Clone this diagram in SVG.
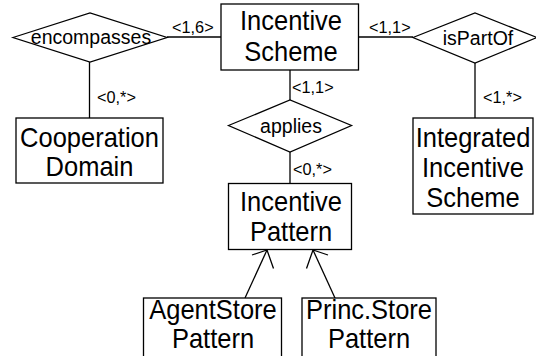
<svg xmlns="http://www.w3.org/2000/svg" width="536" height="356" viewBox="0 0 536 356">
<style>
  .shape { fill: #ffffff; stroke: #000000; stroke-width: 1.3; }
  .line { fill: none; stroke: #000000; stroke-width: 1.3; }
  .ent { font-family: "Liberation Sans", Arial, sans-serif; font-size: 25.5px; fill: #000; text-anchor: middle; }
  .rel { font-family: "Liberation Sans", Arial, sans-serif; font-size: 19.5px; fill: #000; text-anchor: middle; }
  .lbl { font-family: "Liberation Sans", Arial, sans-serif; font-size: 16.3px; fill: #000; }
</style>
<rect width="536" height="356" fill="#ffffff"/>
<g id="connectors">
  <line class="line" x1="167" y1="37" x2="221" y2="37"/>
  <line class="line" x1="89.5" y1="62" x2="89.5" y2="118"/>
  <line class="line" x1="358" y1="37" x2="413" y2="37"/>
  <line class="line" x1="475" y1="63" x2="475" y2="118"/>
  <line class="line" x1="290" y1="70" x2="290" y2="100"/>
  <line class="line" x1="290" y1="152" x2="290" y2="183"/>
  <polyline class="line" points="245,298 267,250"/>
  <polyline class="line" points="252,255 267,250 273.5,268.5"/>
  <polyline class="line" points="335,298 313,250"/>
  <polyline class="line" points="328,255 313,250 306.5,268.5"/>
  <text class="lbl" x="172" y="33">&lt;1,6&gt;</text>
  <text class="lbl" x="97" y="103">&lt;0,*&gt;</text>
  <text class="lbl" x="369" y="33">&lt;1,1&gt;</text>
  <text class="lbl" x="483" y="103">&lt;1,*&gt;</text>
  <text class="lbl" x="292" y="93">&lt;1,1&gt;</text>
  <text class="lbl" x="293" y="175">&lt;0,*&gt;</text>
</g>
<g id="incentive-scheme">
  <rect class="shape" x="221" y="4" width="137.5" height="66"/>
  <text class="ent" transform="translate(291,30) scale(1,1.08)">Incentive</text>
  <text class="ent" transform="translate(291,61) scale(1,1.08)">Scheme</text>
</g>
<g id="encompasses">
  <polygon class="shape" points="13,37.5 90,13 167,37.5 90,62"/>
  <text class="rel" x="91" y="44">encompasses</text>
</g>
<g id="is-part-of">
  <polygon class="shape" points="413,37.5 475,13 537,37.5 475,63"/>
  <text class="rel" x="478" y="45">isPartOf</text>
</g>
<g id="cooperation-domain">
  <rect class="shape" x="16" y="118" width="147" height="65"/>
  <text class="ent" transform="translate(89.5,147) scale(1,1.08)">Cooperation</text>
  <text class="ent" transform="translate(89.5,176) scale(1,1.08)">Domain</text>
</g>
<g id="applies">
  <polygon class="shape" points="228.5,125.5 290,100 351.5,125.5 290,152"/>
  <text class="rel" x="291" y="133">applies</text>
</g>
<g id="integrated-incentive-scheme">
  <rect class="shape" x="413" y="118" width="120" height="96"/>
  <text class="ent" transform="translate(473,147) scale(1,1.08)">Integrated</text>
  <text class="ent" transform="translate(473,177) scale(1,1.08)">Incentive</text>
  <text class="ent" transform="translate(473,207) scale(1,1.08)">Scheme</text>
</g>
<g id="incentive-pattern">
  <rect class="shape" x="228.5" y="183.5" width="123" height="66"/>
  <text class="ent" transform="translate(291,211) scale(1,1.08)">Incentive</text>
  <text class="ent" transform="translate(291,241) scale(1,1.08)">Pattern</text>
</g>
<g id="agentstore-pattern">
  <rect class="shape" x="143.5" y="298" width="138" height="60"/>
  <text class="ent" transform="translate(213,318.5) scale(1,1.08)">AgentStore</text>
  <text class="ent" transform="translate(213,347.5) scale(1,1.08)">Pattern</text>
</g>
<g id="princstore-pattern">
  <rect class="shape" x="302" y="298" width="134" height="60"/>
  <text class="ent" transform="translate(369,318.5) scale(1,1.08)">Princ.Store</text>
  <text class="ent" transform="translate(369,347.5) scale(1,1.08)">Pattern</text>
</g>
</svg>
